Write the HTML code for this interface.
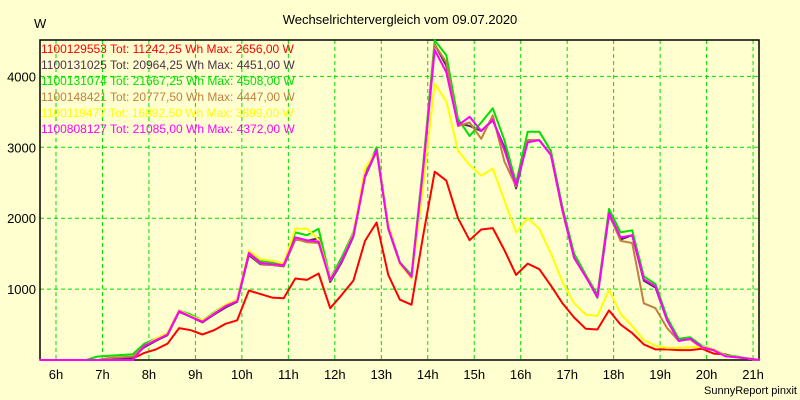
<!DOCTYPE html>
<html><head><meta charset="utf-8"><style>
body{margin:0;background:#ffffd0;}
svg{display:block;font-family:"Liberation Sans",sans-serif;}
</style></head><body>
<svg id="c" width="800" height="400" viewBox="0 0 800 400">
<rect x="0" y="0" width="800" height="400" fill="#ffffd0"/>
<text x="400" y="24" text-anchor="middle" font-size="13" fill="#000">Wechselrichtervergleich vom 09.07.2020</text>
<text x="34" y="28" font-size="13" fill="#000">W</text>
<text x="797" y="394" text-anchor="end" font-size="11" fill="#000">SunnyReport pinxit</text>
<g id="grid"></g><g id="axes"></g><g id="series"></g><g id="legend"></g>
</svg>
<script>
const hourTicks=[6,7,8,9,10,11,12,13,14,15,16,17,18,19,20,21];
const yTicks=[1000,2000,3000,4000];
const startTime=5.65, stepHours=0.25;
const names=["1100129553","1100131025","1100131074","1100148421","1100119477","1100808127"];
const totals=["11242,25","20964,25","21667,25","20777,50","16892,50","21085,00"];
const maxes=["2656,00","4451,00","4508,00","4447,00","3899,00","4372,00"];
const colors=["#ff0000","#503050","#00e000","#c08040","#ffff00","#ff00ff"];
const sRed=[0,0,0,0,0,0,0,10,20,100,150,230,450,420,360,420,510,560,980,930,880,870,1150,1130,1220,730,920,1120,1680,1940,1200,850,780,1750,2656,2530,2000,1690,1840,1860,1550,1200,1360,1280,1050,800,600,440,430,700,500,380,220,150,150,140,140,160,90,80,40,20,0];
const sDark=[0,0,0,0,0,0,0,20,30,180,270,350,680,610,530,640,740,820,1480,1350,1340,1320,1700,1680,1720,1100,1380,1740,2580,2950,1850,1360,1160,2700,4451,4150,3340,3300,3230,3380,3000,2420,3100,3100,2900,2100,1450,1180,880,2050,1700,1760,1120,1020,560,270,300,180,140,55,40,20,0];
const sGreen=[0,0,0,0,0,50,60,70,80,230,300,380,700,640,560,670,780,850,1520,1400,1380,1360,1800,1760,1850,1150,1450,1800,2620,3000,1900,1380,1200,2750,4508,4300,3400,3160,3350,3550,3100,2500,3220,3220,2950,2150,1500,1200,920,2130,1800,1830,1180,1070,600,300,320,200,150,70,50,20,0];
const sBrown=[0,0,0,0,0,0,30,40,50,200,280,360,690,620,540,650,760,830,1500,1360,1340,1330,1710,1660,1650,1120,1400,1760,2600,2960,1860,1370,1170,2700,4447,4200,3300,3350,3120,3450,2800,2450,3100,3100,2900,2100,1440,1180,890,2060,1680,1650,800,730,450,270,290,170,140,55,40,20,0];
const sYellow=[0,0,0,0,0,0,0,0,0,200,300,380,700,620,560,660,780,850,1540,1420,1400,1360,1850,1850,1700,1150,1400,1780,2700,2950,1900,1350,1150,2450,3899,3650,2950,2750,2600,2700,2250,1800,2000,1850,1500,1100,800,640,620,990,650,480,280,200,170,170,180,190,150,60,40,20,0];
const sMagenta=[0,0,0,0,0,0,0,0,0,200,280,360,690,610,540,650,760,830,1510,1370,1350,1340,1730,1690,1670,1130,1400,1760,2600,2960,1860,1370,1170,2680,4372,4060,3310,3430,3230,3390,2960,2470,3070,3100,2890,2120,1440,1170,890,2070,1730,1760,1140,1040,560,270,300,180,140,55,40,20,0];
const allSeries=[sRed,sDark,sGreen,sBrown,sYellow,sMagenta];
const NS="http://www.w3.org/2000/svg";
const L=40,R=759,T=40,B=360;
function xOf(h){return 56+(h-6)*46.47;}
function yOf(v){return B-v*0.0709;}
function mk(tag,attrs,parent){const e=document.createElementNS(NS,tag);for(const k in attrs)e.setAttribute(k,attrs[k]);parent.appendChild(e);return e;}
const grid=document.getElementById('grid'),axes=document.getElementById('axes'),ser=document.getElementById('series'),leg=document.getElementById('legend');
hourTicks.forEach(h=>{
 const x=xOf(h);
 const g=mk('line',{x1:x,x2:x,y1:T,y2:B,stroke:'#00dd00','stroke-dasharray':'4,3','stroke-width':1},grid);
 
 
 const t=mk('text',{x:x,y:379,'text-anchor':'middle','font-size':13,fill:'#000'},axes);
 t.textContent=h+'h';
 
 
});
yTicks.forEach(v=>{
 const y=yOf(v);
 const g=mk('line',{x1:L,x2:R,y1:y,y2:y,stroke:'#00dd00','stroke-dasharray':'4,3','stroke-width':1},grid);
 
 
 const t=mk('text',{x:36,y:y+5,'text-anchor':'end','font-size':13,fill:'#000'},axes);
 t.textContent=v;
 
 
});
const frame=mk('rect',{x:L,y:T,width:R-L,height:B-T,fill:'none',stroke:'#000','stroke-width':1.5},axes);


allSeries.forEach((s,i)=>{
 const pts=s.map((v,k)=>xOf(startTime+k*stepHours).toFixed(1)+','+yOf(v).toFixed(1)).join(' ');
 const p=mk('polyline',{points:pts,fill:'none',stroke:colors[i],'stroke-width':2,'stroke-linejoin':'round'},ser);
 
 
});
names.forEach((n,i)=>{
 const t=mk('text',{x:41,y:53+i*16,'font-size':12,fill:colors[i]},leg);
 t.textContent=n+' Tot: '+totals[i]+' Wh Max: '+maxes[i]+' W';
 
 
});
</script>
</body></html>
